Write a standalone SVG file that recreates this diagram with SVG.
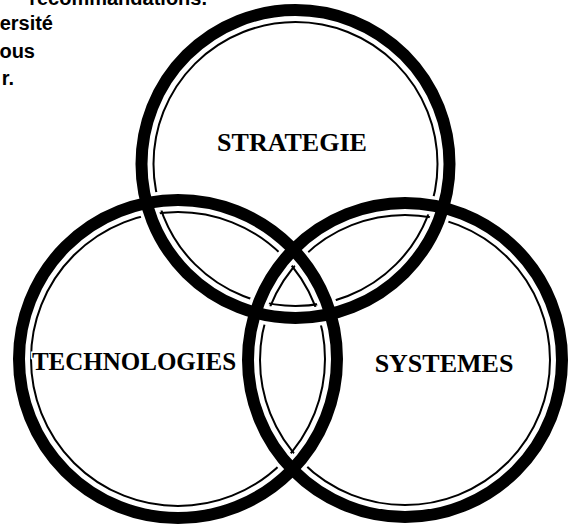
<svg xmlns="http://www.w3.org/2000/svg" width="571" height="530" viewBox="0 0 571 530">
<style>
.thin{fill:none;stroke:#000;stroke-width:2}
.halo{fill:none;stroke:#fff;stroke-width:19}
.ring{fill:none;stroke:#000;stroke-width:12}
.lbl{font-family:"Liberation Serif","Times New Roman",serif;font-weight:bold;font-size:26px;fill:#000;text-anchor:middle}
.frag{font-family:"Liberation Sans",Arial,sans-serif;font-weight:bold;font-size:20px;fill:#000;text-anchor:end}
</style>
<rect width="571" height="530" fill="#fff"/>
<g id="text-fragments">
<text class="frag" x="207" y="5">recommandations.</text>
<text class="frag" x="53" y="30">ersité</text>
<text class="frag" x="35" y="58">ous</text>
<text class="frag" x="14" y="85">r.</text>
</g>
<g id="inner-lines">
<circle class="thin" cx="295.5" cy="164" r="142"/>
<circle class="thin" cx="178" cy="359" r="147"/>
<circle class="thin" cx="405" cy="360" r="145"/>
</g>
<g id="halos">
<circle class="halo" cx="295.5" cy="164" r="154"/>
<circle class="halo" cx="178" cy="359" r="159"/>
<circle class="halo" cx="405" cy="360" r="157"/>
</g>
<g id="strategie">
<circle class="ring" cx="295.5" cy="164" r="154"/>
<text class="lbl" x="292" y="151">STRATEGIE</text>
</g>
<g id="technologies">
<circle class="ring" cx="178" cy="359" r="159"/>
<text class="lbl" x="134" y="370" stroke="#fff" stroke-width="3" paint-order="stroke" style="font-size:25px">TECHNOLOGIES</text>
</g>
<g id="systemes">
<circle class="ring" cx="405" cy="360" r="157"/>
<text class="lbl" x="444" y="372">SYSTEMES</text>
</g>
</svg>
